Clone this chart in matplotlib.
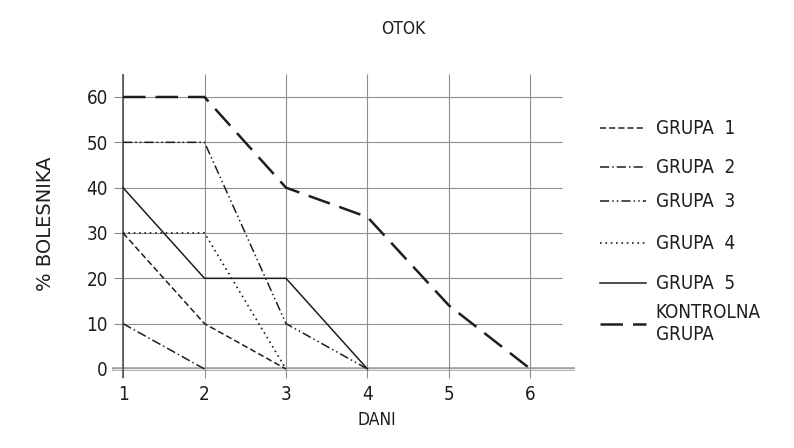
"""OTOK: % bolesnika po danima, po grupama (rekonstrukcija grafikona)."""

import matplotlib

matplotlib.use("Agg")
import matplotlib.pyplot as plt
from matplotlib.lines import Line2D

INK = "#1e1e1e"
GRID = "#8f8f8f"

dani = [1, 2, 3, 4, 5, 6]
grupa_1 = [30, 10, 0]
grupa_2 = [10, 0]
grupa_3 = [50, 50, 10, 0]
grupa_4 = [30, 30, 0]
grupa_5 = [40, 20, 20, 0]
kontrolna = [60, 60, 40, 33.5, 14, 0]

labels = ["GRUPA  1", "GRUPA  2", "GRUPA  3", "GRUPA  4", "GRUPA  5",
          "KONTROLNA\nGRUPA"]
yticks = [0, 10, 20, 30, 40, 50, 60]

series = [grupa_1, grupa_2, grupa_3, grupa_4, grupa_5, kontrolna]
styles = [
    dict(linestyle=(0, (4, 2)), lw=1.1),
    dict(linestyle=(0, (6, 2, 1, 2)), lw=1.1),
    dict(linestyle=(0, (6, 2, 1, 2, 1, 2)), lw=1.1),
    dict(linestyle=(0, (1, 2.2)), lw=1.2),
    dict(linestyle="-", lw=1.1),
    dict(linestyle=(0, (9, 4)), lw=1.8),
]
# legend row heights (figure pixels from top) - the hand lettering is uneven
legend_rows = [128, 167, 201, 243, 283, 324]

TXT = dict(color=INK, family="DejaVu Sans", fontstretch="condensed")

fig = plt.figure(figsize=(7.94, 4.48), dpi=100)
ax = fig.add_axes([0.1344, 0.146, 0.5953, 0.6982])
ax.set_xlim(0.8, 6.6)
ax.set_ylim(-3, 66)
for s in ax.spines.values():
    s.set_visible(False)

# grid drawn like the original: horizontals stop short, verticals poke out
ax.hlines(yticks[1:], 0.89, 6.39, color=GRID, lw=0.8, zorder=1)
ax.hlines(0, 0.86, 6.55, color="#a0a0a0", lw=2.6, zorder=1)
ax.hlines(0, 0.86, 6.55, color="white", lw=0.6, zorder=1)
ax.vlines(dani, -2, 65, color=GRID, lw=0.8, zorder=1)
ax.vlines(dani[0], -2, 65, color="#555555", lw=1.2, zorder=1)

for ys, st in zip(series, styles):
    ax.plot(dani[:len(ys)], ys, color=INK, zorder=3, **st)

ax.set_xticks(dani)
ax.set_xticklabels([str(d) for d in dani], fontsize=13.5, **TXT)
ax.set_yticks(yticks)
ax.set_yticklabels([str(v) for v in yticks], fontsize=13.5, **TXT)
ax.tick_params(axis="both", length=0)
ax.tick_params(axis="x", pad=1.5)
ax.tick_params(axis="y", pad=-1)

fig.text(0.508, 0.935, "OTOK", ha="center", va="center", fontsize=12.5, **TXT)
fig.text(0.474, 0.062, "DANI", ha="center", va="center", fontsize=12.5, **TXT)
fig.text(0.057, 0.5, "% BOLESNIKA", ha="center", va="center", rotation=90,
         fontsize=14, color=INK)

# legend, placed row by row
H = 448.0
for label, st, row in zip(labels, styles, legend_rows):
    yf = 1 - row / H
    fig.add_artist(Line2D([0.7557, 0.8136], [yf, yf], color=INK,
                          transform=fig.transFigure, **st))
    fig.text(0.826, yf, label, ha="left", va="center", fontsize=13.5,
             linespacing=1.2, **TXT)

fig.savefig("out.png", dpi=100)
plt.close(fig)
